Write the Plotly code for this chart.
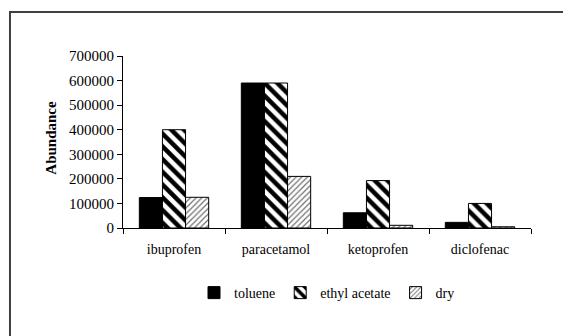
import plotly.graph_objects as go

categories = ["ibuprofen", "paracetamol", "ketoprofen", "diclofenac"]
toluene = [124000, 590000, 62000, 23000]
ethyl_acetate = [400000, 590000, 193000, 100000]
dry = [125000, 210000, 11000, 5000]
y_ticks = [0, 100000, 200000, 300000, 400000, 500000, 600000, 700000]

FONT = "Liberation Serif"

fig = go.Figure()
fig.add_trace(go.Bar(
    x=categories, y=toluene, name="toluene",
    marker=dict(color="black", line=dict(color="black", width=1)),
))
fig.add_trace(go.Bar(
    x=categories, y=ethyl_acetate, name="ethyl acetate",
    marker=dict(color="white", line=dict(color="black", width=1),
                pattern=dict(shape="\\", fgcolor="black", bgcolor="white",
                             size=9, solidity=0.5, fillmode="replace")),
))
fig.add_trace(go.Bar(
    x=categories, y=dry, name="dry",
    marker=dict(color="white", line=dict(color="black", width=1),
                pattern=dict(shape="/", fgcolor="#707070", bgcolor="white",
                             size=4, solidity=0.3, fillmode="replace")),
))

fig.update_layout(
    width=563, height=336,
    margin=dict(l=123, r=32, t=56, b=108),
    paper_bgcolor="white", plot_bgcolor="white",
    barmode="group", bargap=0.32, bargroupgap=0,
    font=dict(family=FONT, size=14, color="black"),
    showlegend=True,
    legend=dict(orientation="h", x=0.5, xanchor="center", y=-0.378, yanchor="middle",
                font=dict(family=FONT, size=14, color="black"),
                itemwidth=30, traceorder="normal", bgcolor="rgba(0,0,0,0)"),
    xaxis=dict(showline=True, linecolor="black", linewidth=1, ticks="outside",
               tickson="boundaries", ticklen=5, tickcolor="black", showgrid=False,
               ticklabelstandoff=8,
               tickfont=dict(family=FONT, size=14)),
    yaxis=dict(range=[0, 700000], tickvals=y_ticks, ticktext=[str(v) for v in y_ticks],
               showline=True, linecolor="black", linewidth=1, ticks="outside",
               ticklen=5, tickcolor="black", showgrid=False, zeroline=False,
               tickfont=dict(family=FONT, size=15)),
    annotations=[dict(text="<b>Abundance</b>", xref="paper", yref="paper",
                      x=-0.203, y=0.526, textangle=-90, showarrow=False,
                      font=dict(family=FONT, size=15, color="black"))],
    shapes=[dict(type="rect", xref="paper", yref="paper",
                 x0=-0.277, x1=1.2, y0=-0.8, y1=1.256,
                 line=dict(color="#404040", width=2), fillcolor="rgba(0,0,0,0)",
                 layer="below")],
)

fig.write_html("out.html")
